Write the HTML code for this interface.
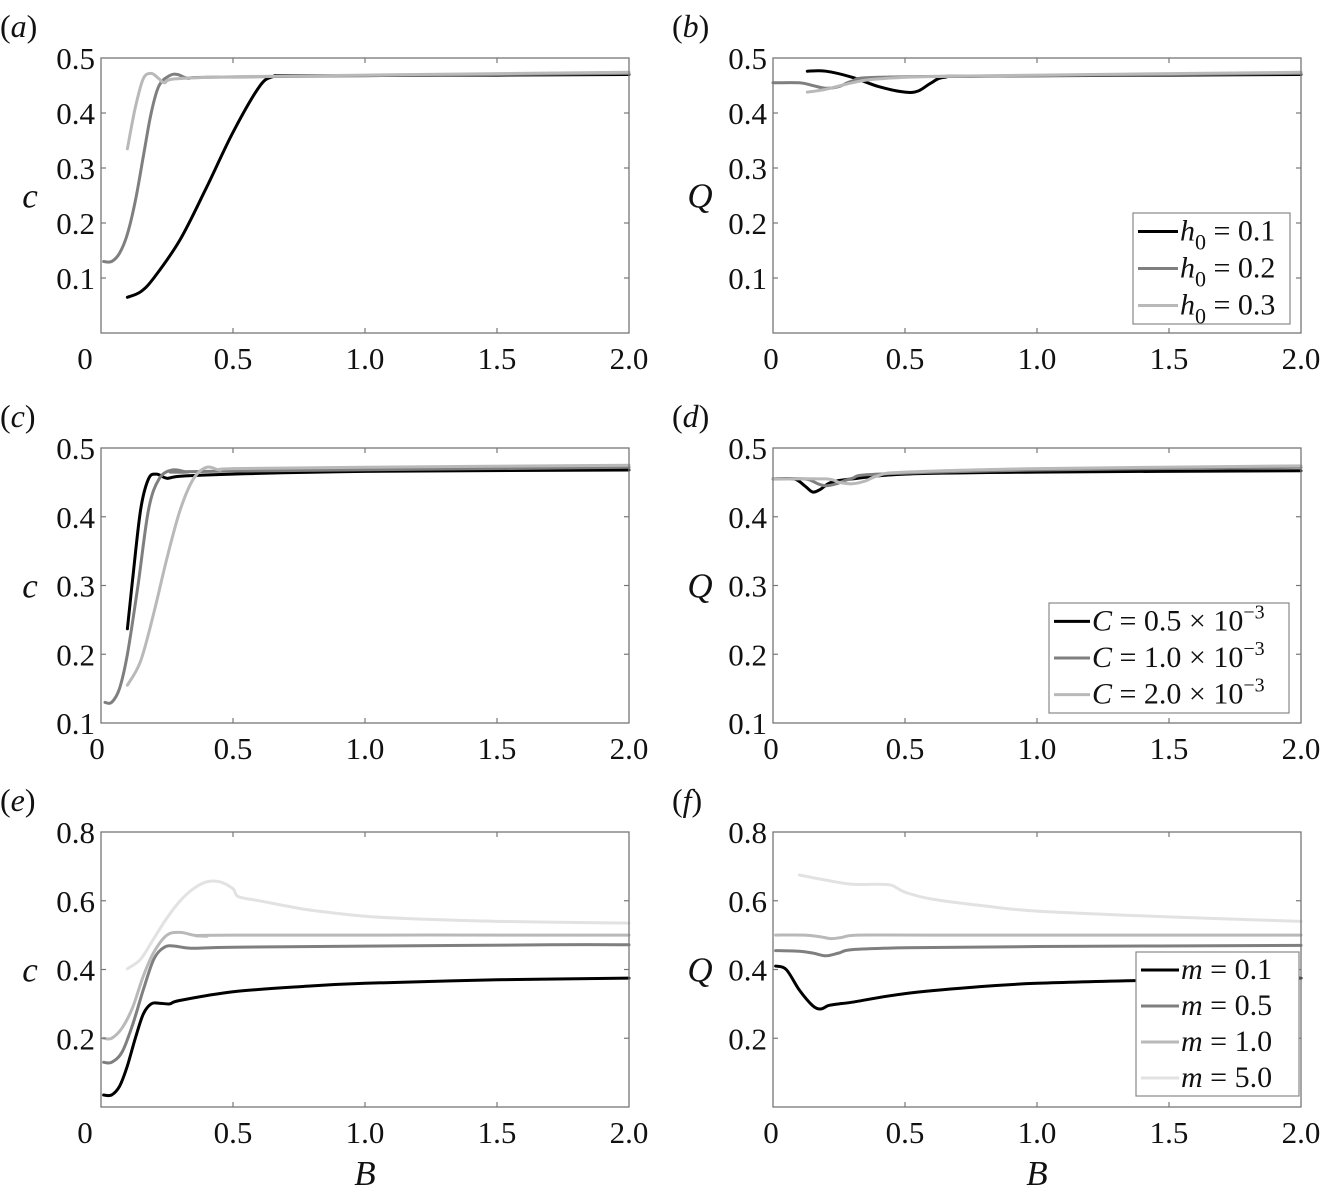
<!DOCTYPE html>
<html><head><meta charset="utf-8">
<style>
html,body{margin:0;padding:0;background:#fff;}
svg{display:block;}
text{font-family:"Liberation Serif","Times New Roman",serif;}
</style></head>
<body>
<svg id="fig" width="1321" height="1196" viewBox="0 0 1321 1196" xmlns="http://www.w3.org/2000/svg" font-family="Liberation Serif, serif"></svg>
<script>
// ---- data ----
const xTicks = [0, 0.5, 1.0, 1.5, 2.0];
const xTickLabels = ["0", "0.5", "1.0", "1.5", "2.0"];
const yTicksA = [0.1, 0.2, 0.3, 0.4, 0.5];
const yTicksC = [0.1, 0.2, 0.3, 0.4, 0.5];
const yTicksE = [0.2, 0.4, 0.6, 0.8];
const colors4 = ["#000000", "#7f7f7f", "#b9b9b9", "#e2e2e2"];

// panel (a)
const aB1 = [0.1,0.15,0.2,0.3,0.4,0.5,0.6,0.65,0.7,1.0,1.5,2.0];
const aV1 = [0.065,0.075,0.1,0.17,0.265,0.365,0.448,0.466,0.468,0.468,0.469,0.47];
const aB2 = [0.01,0.04,0.07,0.1,0.13,0.16,0.19,0.22,0.26,0.29,0.33,0.4,1.0,2.0];
const aV2 = [0.13,0.13,0.145,0.18,0.24,0.32,0.4,0.45,0.468,0.47,0.463,0.465,0.468,0.472];
const aB3 = [0.1,0.13,0.16,0.19,0.22,0.24,0.28,0.5,1.0,2.0];
const aV3 = [0.335,0.41,0.462,0.472,0.462,0.455,0.462,0.466,0.469,0.474];
// panel (b)
const bB1 = [0.13,0.2,0.3,0.4,0.5,0.55,0.6,0.65,0.8,2.0];
const bV1 = [0.476,0.476,0.465,0.448,0.438,0.44,0.455,0.465,0.467,0.47];
const bB2 = [0.0,0.1,0.15,0.2,0.25,0.3,0.4,1.0,2.0];
const bV2 = [0.455,0.455,0.45,0.445,0.448,0.458,0.465,0.468,0.472];
const bB3 = [0.13,0.2,0.3,0.4,0.7,2.0];
const bV3 = [0.438,0.443,0.455,0.462,0.467,0.474];
// panel (c)
const cB1 = [0.1,0.12,0.15,0.18,0.21,0.25,0.3,0.5,1.0,2.0];
const cV1 = [0.237,0.31,0.41,0.455,0.462,0.456,0.459,0.462,0.466,0.468];
const cB2 = [0.015,0.04,0.07,0.1,0.14,0.18,0.22,0.27,0.33,0.4,2.0];
const cV2 = [0.13,0.13,0.15,0.2,0.3,0.41,0.455,0.468,0.465,0.466,0.472];
const cB3 = [0.1,0.15,0.2,0.25,0.3,0.35,0.4,0.45,0.5,1.0,2.0];
const cV3 = [0.155,0.19,0.26,0.34,0.41,0.455,0.472,0.468,0.47,0.472,0.475];
// panel (d)
const dB1 = [0.0,0.08,0.12,0.15,0.18,0.22,0.3,0.5,1.0,2.0];
const dV1 = [0.455,0.455,0.445,0.436,0.44,0.45,0.455,0.462,0.465,0.467];
const dB2 = [0.0,0.12,0.17,0.2,0.24,0.3,0.4,1.0,2.0];
const dV2 = [0.455,0.455,0.448,0.445,0.448,0.456,0.462,0.468,0.472];
const dB3 = [0.0,0.2,0.25,0.3,0.35,0.4,0.5,1.0,2.0];
const dV3 = [0.455,0.455,0.45,0.448,0.452,0.46,0.465,0.47,0.474];
// panel (e)
const eB1 = [0.01,0.04,0.07,0.1,0.13,0.16,0.19,0.22,0.26,0.3,0.5,0.75,1.0,1.5,2.0];
const eV1 = [0.035,0.035,0.06,0.12,0.2,0.27,0.3,0.302,0.3,0.31,0.335,0.35,0.36,0.37,0.375];
const eB2 = [0.01,0.04,0.08,0.12,0.16,0.2,0.24,0.28,0.34,0.5,1.0,1.7,2.0];
const eV2 = [0.13,0.13,0.16,0.24,0.34,0.43,0.465,0.468,0.462,0.465,0.468,0.472,0.472];
const eB3 = [0.01,0.04,0.08,0.12,0.16,0.2,0.25,0.3,0.35,0.4,0.5,2.0];
const eV3 = [0.2,0.2,0.23,0.29,0.38,0.45,0.5,0.508,0.5,0.497,0.5,0.5];
const eB4 = [0.1,0.15,0.2,0.25,0.3,0.35,0.4,0.45,0.5,0.52,0.6,0.7,0.8,1.0,1.2,1.5,2.0];
const eV4 = [0.402,0.43,0.49,0.55,0.6,0.635,0.655,0.655,0.635,0.612,0.6,0.585,0.572,0.555,0.547,0.54,0.535];
// panel (f)
const fB1 = [0.01,0.05,0.1,0.15,0.18,0.21,0.25,0.3,0.5,0.75,1.0,1.5,2.0];
const fV1 = [0.41,0.4,0.34,0.295,0.285,0.295,0.3,0.305,0.33,0.348,0.36,0.37,0.375];
const fB2 = [0.01,0.1,0.15,0.2,0.25,0.3,0.5,1.0,2.0];
const fV2 = [0.455,0.453,0.448,0.44,0.448,0.458,0.463,0.467,0.47];
const fB3 = [0.01,0.12,0.18,0.22,0.26,0.32,0.6,2.0];
const fV3 = [0.5,0.5,0.495,0.49,0.493,0.5,0.5,0.5];
const fB4 = [0.1,0.2,0.3,0.4,0.45,0.5,0.6,0.8,1.0,1.5,2.0];
const fV4 = [0.675,0.66,0.648,0.648,0.645,0.625,0.605,0.585,0.57,0.553,0.54];

const NS = "http://www.w3.org/2000/svg";
const FONT = "Liberation Serif, Times New Roman, serif";
const svg = document.getElementById("fig");
function mk(tag, attrs, parent){
  const e = document.createElementNS(NS, tag);
  for (const k in attrs) e.setAttribute(k, attrs[k]);
  if (tag === "text") e.setAttribute("font-family", FONT);
  (parent||svg).appendChild(e);
  return e;
}
function smoothPath(pts){
  let d = "M" + pts[0][0].toFixed(1) + "," + pts[0][1].toFixed(1);
  for (let i=0;i<pts.length-1;i++){
    const p0 = pts[Math.max(0,i-1)], p1 = pts[i], p2 = pts[i+1], p3 = pts[Math.min(pts.length-1,i+2)];
    const c1x = p1[0]+(p2[0]-p0[0])/6, c1y = p1[1]+(p2[1]-p0[1])/6;
    const c2x = p2[0]-(p3[0]-p1[0])/6, c2y = p2[1]-(p3[1]-p1[1])/6;
    d += " C"+c1x.toFixed(1)+","+c1y.toFixed(1)+" "+c2x.toFixed(1)+","+c2y.toFixed(1)+" "+p2[0].toFixed(1)+","+p2[1].toFixed(1);
  }
  return d;
}

function panel(cfg){
  const g = mk("g", {});
  
  
  const L = cfg.left, R = cfg.left + 528, T = cfg.top, Bt = cfg.top + 275;
  const xs = v => L + (v/2)*(R-L);
  const ys = v => Bt - (v-cfg.ymin)/(cfg.ymax-cfg.ymin)*(Bt-T);
  cfg.series.forEach((s, i) => {
    const pts = s.x.map((b, j) => [xs(b), ys(s.y[j])]);
    const p = mk("path", {d: smoothPath(pts), fill:"none", stroke: colors4[i], "stroke-width": 3, "stroke-linejoin":"round", "stroke-linecap":"round"}, g);
    
    
  });
  const fr = mk("rect", {x:L, y:T, width:R-L, height:Bt-T, fill:"none", stroke:"#777", "stroke-width":1.3}, g);
  
  
  xTicks.forEach((t, i) => {
    const x = xs(t);
    if (i>0 && i<xTicks.length-1){
      mk("line", {x1:x, y1:Bt, x2:x, y2:Bt-5, stroke:"#777", "stroke-width":1.2}, g);
      mk("line", {x1:x, y1:T, x2:x, y2:T+5, stroke:"#777", "stroke-width":1.2}, g);
    }
    let lx = x;
    if (i===0) lx = x - cfg.zeroShift;
    const tx = mk("text", {x:lx, y:Bt+36, "font-size":31, "text-anchor":"middle", fill:"#111"}, g);
    tx.textContent = xTickLabels[i];
    
    
  });
  cfg.yticks.forEach(t => {
    const y = ys(t);
    if (Math.abs(y-T)>1 && Math.abs(y-Bt)>1){
      mk("line", {x1:L, y1:y, x2:L+5, y2:y, stroke:"#777", "stroke-width":1.2}, g);
      mk("line", {x1:R, y1:y, x2:R-5, y2:y, stroke:"#777", "stroke-width":1.2}, g);
    }
    const tx = mk("text", {x:L-6, y:y+11, "font-size":31, "text-anchor":"end", fill:"#111"}, g);
    tx.textContent = t.toFixed(1);
    
    
  });
  const yl = mk("text", {x:cfg.ylabX, y:(T+Bt)/2+12, "font-size":35, "font-style":"italic", "text-anchor":"middle", fill:"#111"}, g);
  yl.textContent = cfg.ylab;
  
  
  const pl = mk("text", {x:cfg.left-101, y:T-21, "font-size":32, fill:"#111"}, g);
  pl.innerHTML = '(<tspan font-style="italic">' + cfg.id + '</tspan>)';
  
  
  if (cfg.xlab){
    const xl = mk("text", {x:(L+R)/2, y:Bt+78, "font-size":35, "font-style":"italic", "text-anchor":"middle", fill:"#111"}, g);
    xl.textContent = "B";
    
    
  }
  if (cfg.legend){
    const lg = cfg.legend;
    const lgG = mk("g", {}, g);
    
    
    mk("rect", {x:lg.x, y:lg.y, width:lg.w, height:lg.h, fill:"#fff", stroke:"#888", "stroke-width":1.2}, lgG);
    const rowH = lg.h / lg.items.length;
    lg.items.forEach((it, i) => {
      const cy = lg.y + rowH*(i+0.5);
      const ln = mk("line", {x1:lg.x+5, y1:cy, x2:lg.x+5+lg.lineW, y2:cy, stroke:colors4[i], "stroke-width":3}, lgG);
      
      
      const tx = mk("text", {x:lg.x+7+lg.lineW, y:cy+9, "font-size":30, fill:"#111"}, lgG);
      tx.innerHTML = it;
      
      
    });
  }
}

const hItems = ["0.1","0.2","0.3"].map(v => '<tspan font-style="italic">h</tspan><tspan font-size="22" dy="9">0</tspan><tspan dy="-9"> = '+v+'</tspan>');
const cItems = ["0.5","1.0","2.0"].map(v => '<tspan font-style="italic">C</tspan> = '+v+' × 10<tspan font-size="20" dy="-12">−3</tspan>');
const mItems = ["0.1","0.5","1.0","5.0"].map(v => '<tspan font-style="italic">m</tspan> = '+v);

panel({id:"a", left:101, top:58, ymin:0, ymax:0.5, yticks:yTicksA, ylab:"c", ylabX:30, zeroShift:16,
  series:[{x:aB1,y:aV1},{x:aB2,y:aV2},{x:aB3,y:aV3}]});
panel({id:"b", left:773, top:58, ymin:0, ymax:0.5, yticks:yTicksA, ylab:"Q", ylabX:700, zeroShift:2,
  series:[{x:bB1,y:bV1},{x:bB2,y:bV2},{x:bB3,y:bV3}],
  legend:{x:1133, y:213, w:157, h:111, lineW:40, items:hItems}});
panel({id:"c", left:101, top:448, ymin:0.1, ymax:0.5, yticks:yTicksC, ylab:"c", ylabX:30, zeroShift:4,
  series:[{x:cB1,y:cV1},{x:cB2,y:cV2},{x:cB3,y:cV3}]});
panel({id:"d", left:773, top:448, ymin:0.1, ymax:0.5, yticks:yTicksC, ylab:"Q", ylabX:700, zeroShift:2,
  series:[{x:dB1,y:dV1},{x:dB2,y:dV2},{x:dB3,y:dV3}],
  legend:{x:1049, y:603, w:240, h:110, lineW:36, items:cItems}});
panel({id:"e", left:101, top:832, ymin:0, ymax:0.8, yticks:yTicksE, ylab:"c", ylabX:30, zeroShift:16, xlab:true,
  series:[{x:eB1,y:eV1},{x:eB2,y:eV2},{x:eB3,y:eV3},{x:eB4,y:eV4}]});
panel({id:"f", left:773, top:832, ymin:0, ymax:0.8, yticks:yTicksE, ylab:"Q", ylabX:700, zeroShift:2, xlab:true,
  series:[{x:fB1,y:fV1},{x:fB2,y:fV2},{x:fB3,y:fV3},{x:fB4,y:fV4}],
  legend:{x:1136, y:952, w:163, h:144, lineW:38, items:mItems}});
</script>
</body></html>
